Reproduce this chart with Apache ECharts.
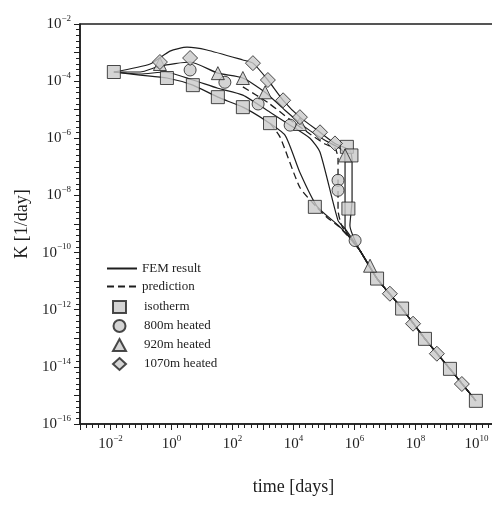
<!DOCTYPE html>
<html lang="en">
<head>
    <meta charset="UTF-8">
    <title>K vs time</title>
    <script src="https://cdn.jsdelivr.net/npm/echarts@6/dist/echarts.min.js"></script>
    <style>
        html, body { margin: 0; padding: 0; background: #fff; }
    </style>
</head>
<body>
    <div id="chart" style="width: 492px; height: 506px;"></div>
    <script>
    // all values are read as log10(time [days]) and log10(K [1/day])
    var xLabelExp = [-2, 0, 2, 4, 6, 8, 10];
    var yLabelExp = [-2, -4, -6, -8, -10, -12, -14, -16];
    var lineNames = ['FEM result', 'prediction'];
    var markerNames = ['isotherm', '800m heated', '920m heated', '1070m heated'];

    // common late-time branch
    var tailPts = [[6.18, -9.93], [6.74, -10.91], [7.56, -11.96], [8.31, -13.02], [9.13, -14.07], [9.98, -15.19]];

    // FEM result curves
    var femIso = [[-1.89, -3.68], [-1.03, -3.79], [-0.15, -3.89], [0.70, -4.14], [1.52, -4.56], [2.34, -4.91],
        [3.07, -5.37], [3.72, -5.89], [4.21, -7.20], [4.77, -8.38], [5.52, -9.10]];
    var fem800 = [[-1.89, -3.68], [-1.03, -3.75], [-0.21, -3.68], [0.70, -3.96], [1.52, -4.25], [2.34, -4.49],
        [3.23, -5.09], [3.89, -5.54], [4.54, -6.00], [4.87, -6.49], [5.46, -8.88], [5.69, -9.16]];
    var fem920 = [[-1.89, -3.68], [-1.03, -3.68], [-0.38, -3.47], [0.61, -3.33], [1.52, -3.72], [2.34, -3.89],
        [3.07, -4.39], [3.72, -5.02], [4.38, -5.61], [5.03, -6.07], [5.52, -6.35], [5.69, -6.60], [5.69, -8.50], [5.69, -9.16]];
    var fem1070 = [[-1.89, -3.68], [-0.70, -3.40], [-0.05, -2.95], [0.51, -2.81], [1.16, -2.91], [2.34, -3.26],
        [2.67, -3.37], [3.16, -3.96], [3.66, -4.67], [4.21, -5.26], [4.87, -5.79], [5.36, -6.18], [5.85, -6.42],
        [5.92, -6.77], [5.92, -8.18], [5.85, -9.05]];

    // prediction curves
    var predIso = [[3.23, -5.47], [3.56, -5.96], [4.21, -7.72], [4.77, -8.42], [5.10, -8.77], [5.52, -9.12]];
    var predHeat = [[2.34, -4.20], [3.16, -4.75], [3.89, -5.35], [4.54, -5.85], [5.03, -6.20], [5.36, -6.35],
        [5.46, -6.70], [5.46, -8.50], [5.60, -9.10]];

    // marker positions
    var isoPts = [[-1.89, -3.68], [-0.15, -3.89], [0.70, -4.14], [1.52, -4.56], [2.34, -4.91], [3.23, -5.47],
        [4.70, -8.40], [5.75, -6.30], [5.90, -6.60], [5.80, -8.46], [6.74, -10.91], [7.56, -11.96],
        [8.31, -13.02], [9.13, -14.07], [9.98, -15.19]];
    var h800Pts = [[0.61, -3.61], [1.75, -4.04], [2.84, -4.80], [3.89, -5.54], [5.46, -7.47], [5.46, -7.82], [6.02, -9.58]];
    var h920Pts = [[-0.38, -3.40], [1.52, -3.72], [2.34, -3.89], [3.07, -4.39], [4.21, -5.50], [5.69, -6.60], [6.51, -10.46]];
    var h1070Pts = [[-0.38, -3.33], [0.61, -3.19], [2.67, -3.37], [3.16, -3.96], [3.66, -4.67], [4.21, -5.26],
        [4.87, -5.79], [5.36, -6.18], [7.16, -11.44], [7.92, -12.49], [8.70, -13.54], [9.52, -14.60]];

    var ink = '#1e1e1e';
    var serif = 'Liberation Serif';

    function expLabel(list) {
        return function (v) {
            if (list.indexOf(v) < 0) return '';
            return '{b|10}{s|' + String(v).replace('-', '\u2212') + '}';
        };
    }
    var richExp = {
        b: { fontSize: 15, fontFamily: serif, color: ink, lineHeight: 20 },
        s: { fontSize: 9, fontFamily: serif, color: ink, verticalAlign: 'top', lineHeight: 9 }
    };

    function femLine(data) {
        return {
            name: 'FEM result', type: 'line', data: data.concat(tailPts), symbol: 'none', smooth: 0.2,
            lineStyle: { color: ink, width: 1.2 }, itemStyle: { color: ink }, z: 2
        };
    }
    function predLine(data) {
        return {
            name: 'prediction', type: 'line', data: data.concat(tailPts), symbol: 'none', smooth: 0.2,
            lineStyle: { color: ink, width: 1.3, type: [7, 4] }, itemStyle: { color: ink }, z: 2
        };
    }
    function markers(name, symbol, size, data) {
        return {
            name: name, type: 'scatter', data: data, symbol: symbol, symbolSize: size,
            itemStyle: { color: '#c9c9c9', borderColor: ink, borderWidth: 1 }, z: 3
        };
    }

    var legendText = { fontFamily: serif, fontSize: 13, color: ink };

    var chart = echarts.init(document.getElementById('chart'));
    chart.setOption({
        animation: false,
        backgroundColor: '#fff',
        grid: {
            left: 80, right: -15, top: 24, bottom: 82, outerBoundsMode: 'none',
            show: true, borderColor: ink, borderWidth: 1.5
        },
        legend: [{
            data: lineNames.map(function (n) { return { name: n, itemStyle: { opacity: 0 } }; }),
            orient: 'vertical', left: 106, top: 262, padding: 0,
            itemWidth: 30, itemHeight: 11, itemGap: 5, textStyle: legendText
        }, {
            data: markerNames, orient: 'vertical', left: 112, top: 300, padding: 0,
            itemWidth: 13, itemHeight: 12, itemGap: 5,
            textStyle: Object.assign({ padding: [0, 0, 0, 13] }, legendText)
        }],
        xAxis: {
            type: 'value', min: -3, max: 11, interval: 1,
            name: 'time [days]', nameLocation: 'middle', nameGap: 54,
            nameTextStyle: { fontFamily: serif, fontSize: 18, color: ink },
            axisLine: { onZero: false, lineStyle: { color: ink, width: 1.5 } },
            axisTick: { length: 6, lineStyle: { color: ink } },
            minorTick: { show: true, splitNumber: 5, length: 4, lineStyle: { color: ink } },
            axisLabel: { interval: 0, margin: 10, formatter: expLabel(xLabelExp), rich: richExp },
            splitLine: { show: false }
        },
        yAxis: {
            type: 'value', min: -16, max: -2, interval: 1,
            name: 'K [1/day]', nameLocation: 'middle', nameGap: 48,
            nameTextStyle: { fontFamily: serif, fontSize: 18, color: ink },
            axisLine: { onZero: false, lineStyle: { color: ink, width: 1.5 } },
            axisTick: { length: 6, lineStyle: { color: ink } },
            minorTick: { show: true, splitNumber: 5, length: 4, lineStyle: { color: ink } },
            axisLabel: { interval: 0, margin: 9, formatter: expLabel(yLabelExp), rich: richExp },
            splitLine: { show: false }
        },
        series: [
            femLine(femIso), femLine(fem800), femLine(fem920), femLine(fem1070),
            predLine(predIso), predLine(predHeat),
            markers('isotherm', 'rect', 13, isoPts),
            markers('800m heated', 'circle', 12, h800Pts),
            markers('920m heated', 'triangle', 13, h920Pts),
            markers('1070m heated', 'diamond', 15, h1070Pts)
        ]
    });
    </script>
</body>
</html>
